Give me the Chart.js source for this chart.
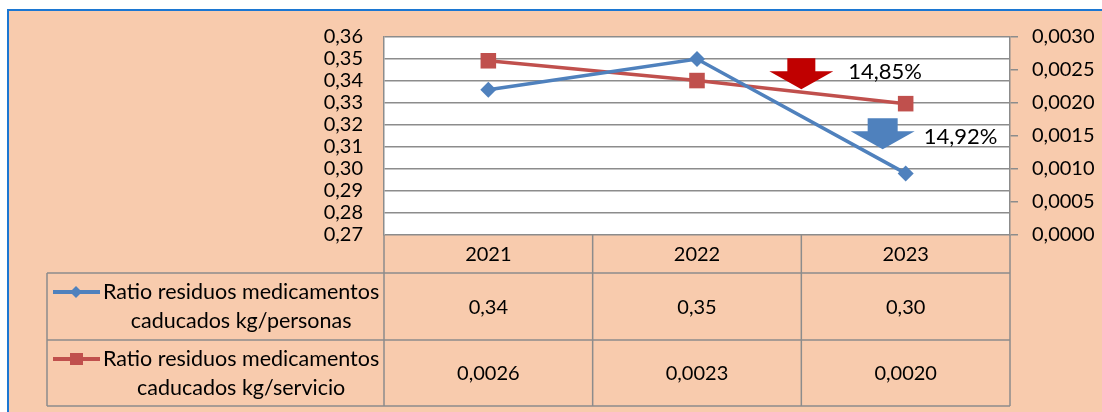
<!DOCTYPE html>
<html>
<head>
<meta charset="utf-8">
<script src="https://cdn.jsdelivr.net/npm/chart.js@4/dist/chart.umd.min.js"></script>
<style>
  html, body { margin: 0; padding: 0; background: #fff; }
  canvas { display: block; }
</style>
</head>
<body>
<canvas id="ratioChart" width="1102" height="412"></canvas>
<script>
// datos
const years = ['2021', '2022', '2023'];
const ratioPersonas = [0.336, 0.35, 0.298];
const ratioServicio = [0.00264, 0.00234, 0.00199];
const seriesNames = [
  ['Ratio residuos medicamentos', 'caducados kg/personas'],
  ['Ratio residuos medicamentos', 'caducados kg/servicio']
];
const changeLabels = ['14,85%', '14,92%'];

const FONT = 'Lato';
const GRID = '#8c8c8c';
const BLUE = '#4F81BD';
const RED = '#C0504D';

const comma = (v, d) => v.toFixed(d).replace('.', ',');

// fondo y marco
const framePlugin = {
  id: 'frame',
  beforeDraw(chart) {
    const { ctx, chartArea: a, width, height } = chart;
    ctx.save();
    ctx.fillStyle = '#fff';
    ctx.fillRect(0, 0, width, height);
    ctx.fillStyle = '#F8CBAD';
    ctx.fillRect(8, 10, width - 8, height - 10);
    ctx.fillStyle = '#1C77D2';
    ctx.fillRect(7, 10, 2, height - 10);
    ctx.fillRect(7, 9, width - 7, 2);
    ctx.fillStyle = '#fff';
    ctx.fillRect(a.left, a.top, a.right - a.left, a.bottom - a.top);
    ctx.restore();
  }
};

// tabla de datos debajo del grafico
const tablePlugin = {
  id: 'dataTable',
  afterDraw(chart) {
    const { ctx, chartArea: a, scales } = chart;
    const x = scales.x;
    const boxLeft = 47;
    const rowTop = 273, rowMid = 340, rowBottom = 406;
    ctx.save();
    ctx.strokeStyle = GRID;
    ctx.lineWidth = 1.5;
    ctx.beginPath();
    [rowTop, rowMid, rowBottom].forEach(y => {
      ctx.moveTo(boxLeft, y); ctx.lineTo(a.right, y);
    });
    ctx.moveTo(boxLeft, rowTop); ctx.lineTo(boxLeft, rowBottom);
    ctx.moveTo(a.left, a.bottom); ctx.lineTo(a.left, rowBottom);
    ctx.moveTo(a.right, a.bottom); ctx.lineTo(a.right, rowBottom);
    for (let i = 1; i < years.length; i++) {
      const xb = (x.getPixelForValue(i - 1) + x.getPixelForValue(i)) / 2;
      ctx.moveTo(xb, a.bottom); ctx.lineTo(xb, rowBottom);
    }
    ctx.stroke();

    ctx.fillStyle = '#000';
    ctx.textBaseline = 'middle';
    ctx.textAlign = 'center';
    const rows = [
      { values: ratioPersonas.map(v => comma(v, 2)), top: rowTop, bottom: rowMid },
      { values: ratioServicio.map(v => comma(v, 4)), top: rowMid, bottom: rowBottom }
    ];
    rows.forEach((r, ri) => {
      const cy = (r.top + r.bottom) / 2;
      ctx.font = '20px ' + FONT;
      ctx.textAlign = 'center';
      r.values.forEach((t, i) => ctx.fillText(t, x.getPixelForValue(i), cy + 1));

      // leyenda
      ctx.font = '21.5px ' + FONT;
      const l1 = seriesNames[ri][0], l2 = seriesNames[ri][1];
      const textLeft = 103;
      const w1 = ctx.measureText(l1).width;
      const c = textLeft + w1 / 2;
      const y1 = r.top + 19, y2 = r.top + 48;
      ctx.textAlign = 'left';
      ctx.fillText(l1, textLeft, y1);
      ctx.textAlign = 'center';
      ctx.fillText(l2, c, y2);

      const color = ri === 0 ? BLUE : RED;
      ctx.strokeStyle = color;
      ctx.lineWidth = 4;
      ctx.beginPath();
      ctx.moveTo(53, y1); ctx.lineTo(100, y1);
      ctx.stroke();
      ctx.fillStyle = color;
      if (ri === 0) {
        ctx.beginPath();
        ctx.moveTo(76, y1 - 6); ctx.lineTo(82, y1); ctx.lineTo(76, y1 + 6); ctx.lineTo(70, y1);
        ctx.closePath(); ctx.fill();
      } else {
        ctx.fillRect(70, y1 - 6, 13, 12);
      }
      ctx.fillStyle = '#000';
    });
    ctx.restore();
  }
};

// flechas de variacion
function blockArrow(ctx, cx, tipY, shaftHalf, headHalf, color) {
  ctx.fillStyle = color;
  ctx.beginPath();
  ctx.moveTo(cx - shaftHalf, tipY - 31);
  ctx.lineTo(cx + shaftHalf, tipY - 31);
  ctx.lineTo(cx + shaftHalf, tipY - 18);
  ctx.lineTo(cx + headHalf, tipY - 18);
  ctx.lineTo(cx, tipY);
  ctx.lineTo(cx - headHalf, tipY - 18);
  ctx.lineTo(cx - shaftHalf, tipY - 18);
  ctx.closePath();
  ctx.fill();
}

const arrowPlugin = {
  id: 'arrows',
  afterDatasetsDraw(chart) {
    const { ctx, scales } = chart;
    const x = scales.x;
    ctx.save();
    const redX = (x.getPixelForValue(1) + x.getPixelForValue(2)) / 2;
    const redTip = scales.y1.getPixelForValue(0.00221);
    blockArrow(ctx, redX, redTip, 14, 32, '#C00000');
    const blueX = x.getPixelForValue(2) - 23;
    const blueTip = scales.y.getPixelForValue(0.309);
    blockArrow(ctx, blueX, blueTip, 15, 32, BLUE);
    ctx.fillStyle = '#000';
    ctx.font = '22px ' + FONT;
    ctx.textBaseline = 'middle';
    ctx.textAlign = 'left';
    ctx.fillText(changeLabels[0], redX + 47, redTip - 17);
    ctx.fillText(changeLabels[1], blueX + 41, blueTip - 12);
    ctx.restore();
  }
};

const tickFont = { family: FONT, size: 20 };

new Chart(document.getElementById('ratioChart').getContext('2d'), {
  type: 'line',
  data: {
    labels: years,
    datasets: [
      {
        label: seriesNames[0].join(' '),
        data: ratioPersonas,
        yAxisID: 'y',
        borderColor: BLUE,
        backgroundColor: BLUE,
        borderWidth: 3.5,
        pointStyle: 'rectRot',
        pointRadius: 8,
        pointBorderWidth: 0,
        tension: 0
      },
      {
        label: seriesNames[1].join(' '),
        data: ratioServicio,
        yAxisID: 'y1',
        borderColor: RED,
        backgroundColor: RED,
        borderWidth: 3.5,
        pointStyle: 'rect',
        pointRadius: 11,
        pointBorderWidth: 0,
        tension: 0
      }
    ]
  },
  options: {
    responsive: false,
    animation: false,
    layout: { padding: { top: 37, left: 0, right: 0, bottom: 0 } },
    plugins: {
      legend: { display: false },
      tooltip: { enabled: false }
    },
    scales: {
      x: {
        offset: true,
        grid: { display: false, drawTicks: false },
        border: { display: false },
        ticks: { font: tickFont, color: '#000', padding: 8 },
        afterFit: s => { s.height = 177; }
      },
      y: {
        position: 'left',
        min: 0.27,
        max: 0.36,
        ticks: {
          stepSize: 0.01,
          autoSkip: false,
          font: tickFont,
          color: '#000',
          padding: 21,
          callback: v => comma(v, 2)
        },
        grid: { color: GRID, lineWidth: 1.5, drawTicks: false },
        border: { color: GRID, width: 1.5 },
        afterFit: s => { s.width = 384; }
      },
      y1: {
        position: 'right',
        min: 0,
        max: 0.003,
        ticks: {
          stepSize: 0.0005,
          autoSkip: false,
          font: tickFont,
          color: '#000',
          padding: 14,
          callback: v => comma(v, 4)
        },
        grid: { drawOnChartArea: false, color: GRID, lineWidth: 1.5, tickLength: 8 },
        border: { color: GRID, width: 1.5 },
        afterFit: s => { s.width = 92; }
      }
    }
  },
  plugins: [framePlugin, tablePlugin, arrowPlugin]
});
</script>
</body>
</html>
